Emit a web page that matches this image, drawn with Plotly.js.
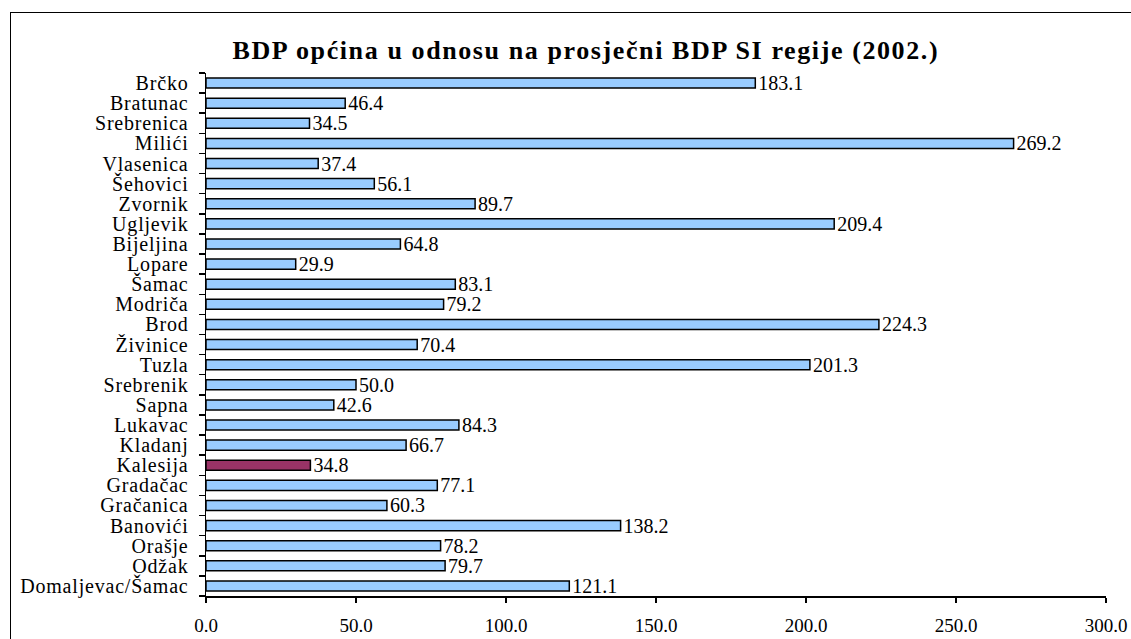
<!DOCTYPE html>
<html><head><meta charset="utf-8">
<script src="https://cdn.plot.ly/plotly-3.0.1.min.js"></script>
<style>
html,body{margin:0;padding:0;background:#fff;}
#wrap{position:relative;width:1131px;height:639px;overflow:hidden;}
#chart{width:1131px;height:639px;}
#frame{position:absolute;left:10px;top:12px;width:1140px;height:650px;border:1.5px solid #000;pointer-events:none;box-sizing:border-box;}
#chart .gtitle{letter-spacing:1.6px;}
#chart .ytick text{letter-spacing:0.8px;}
</style>
</head><body>
<div id="wrap"><div id="chart"></div><div id="frame"></div></div>
<script>
const municipalities = ["Brčko","Bratunac","Srebrenica","Milići","Vlasenica","Šehovici","Zvornik","Ugljevik","Bijeljina","Lopare","Šamac","Modriča","Brod","Živinice","Tuzla","Srebrenik","Sapna","Lukavac","Kladanj","Kalesija","Gradačac","Gračanica","Banovići","Orašje","Odžak","Domaljevac/Šamac"];
const bdpIndex = [183.1,46.4,34.5,269.2,37.4,56.1,89.7,209.4,64.8,29.9,83.1,79.2,224.3,70.4,201.3,50.0,42.6,84.3,66.7,34.8,77.1,60.3,138.2,78.2,79.7,121.1];
const highlighted = ["Kalesija"];
const xTicks = [0,50,100,150,200,250,300];

const colors = municipalities.map(m => highlighted.includes(m) ? "#993366" : "#99CCFF");
const font = "Liberation Serif, Times New Roman, serif";

const trace = {
  type: "bar",
  orientation: "h",
  y: municipalities,
  x: bdpIndex,
  text: bdpIndex.map(v => v.toFixed(1)),
  textposition: "outside",
  constraintext: "none",
  textfont: {family: font, size: 20, color: "#000"},
  cliponaxis: false,
  marker: {color: colors, line: {color: "#000", width: 1.5}},
  hoverinfo: "none"
};

const layout = {
  width: 1131, height: 639,
  margin: {l: 206, r: 25, t: 73, b: 43, pad: 0},
  paper_bgcolor: "#fff", plot_bgcolor: "#fff",
  showlegend: false,
  bargap: 0.5,
  title: {text: "<b>BDP općina u odnosu na prosječni BDP SI regije (2002.)</b>",
          font: {family: font, size: 26, color: "#000"},
          x: 0.518, xanchor: "center", y: 0.922, yanchor: "middle"},
  xaxis: {range: [0, 300], tickmode: "array", tickvals: xTicks, ticktext: xTicks.map(v => v.toFixed(1)),
          showgrid: false, zeroline: false, showline: true, linecolor: "#000", linewidth: 1.5,
          ticks: "outside", ticklen: 5, tickwidth: 1.5, tickcolor: "#000",
          ticklabelstandoff: 7,
          tickfont: {family: font, size: 19, color: "#000"}, fixedrange: true},
  yaxis: {autorange: "reversed", tickmode: "array", tickvals: municipalities, ticktext: municipalities,
          showgrid: false, zeroline: false, showline: true,
          linecolor: "#000", linewidth: 1.5,
          ticks: "outside", tickson: "boundaries", ticklen: 6, tickwidth: 1.5, tickcolor: "#000",
          ticklabelstandoff: 12,
          tickfont: {family: font, size: 20, color: "#000"}, fixedrange: true}
};

Plotly.newPlot("chart", [trace], layout, {displayModeBar: false, staticPlot: true});
</script>
</body></html>
